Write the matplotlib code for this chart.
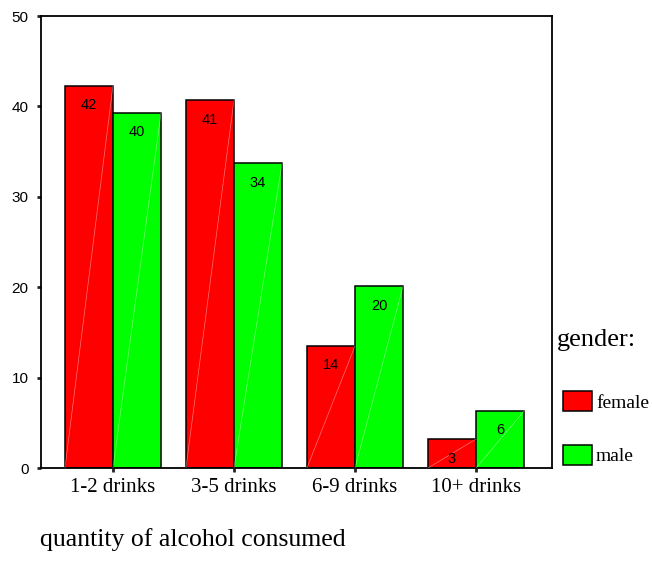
import matplotlib
matplotlib.use("Agg")
import matplotlib.pyplot as plt
import numpy as np

categories = ["1-2 drinks", "3-5 drinks", "6-9 drinks", "10+ drinks"]
female = [42.3, 40.7, 13.5, 3.2]
male = [39.3, 33.7, 20.1, 6.3]
female_labels = ["42", "41", "14", "3"]
male_labels = ["40", "34", "20", "6"]
yticks = [0, 10, 20, 30, 40, 50]

fig = plt.figure(figsize=(6.52, 5.61), dpi=100)
ax = fig.add_axes([41/652, 1-468/561, 511/652, 452/561])

x = np.arange(len(categories))
w = 0.397
red = "#ff0000"
green = "#00ff00"
b1 = ax.bar(x - w/2, female, w, color=red, edgecolor="black", linewidth=1.1, label="female")
b2 = ax.bar(x + w/2, male, w, color=green, edgecolor="black", linewidth=1.1, label="male")

# faint diagonal artifacts
for xs, vals in ((x - w/2, female), (x + w/2, male)):
    for xc, v in zip(xs, vals):
        ax.plot([xc - w/2, xc + w/2], [0, v], color="white", lw=0.5, alpha=0.45, zorder=3)

for xs, vals, labs in ((x - w/2, female, female_labels), (x + w/2, male, male_labels)):
    for xc, v, lab in zip(xs, vals, labs):
        ax.annotate(lab, (xc, v), xytext=(0, -14), textcoords="offset points",
                    ha="center", va="center", fontsize=10.5, family="Liberation Sans", zorder=4)

ax.set_xlim(-0.595, 3.628)
ax.set_ylim(0, 50)
ax.set_yticks(yticks)
ax.set_yticklabels([str(t) for t in yticks], family="Liberation Sans", fontsize=11)
ax.set_xticks(x)
ax.set_xticklabels(categories, family="Liberation Serif", fontsize=15)
ax.tick_params(axis="both", length=3, width=2, color="#222222")
ax.tick_params(axis="y", pad=6)
ax.tick_params(axis="x", pad=4)
for s in ax.spines.values():
    s.set_linewidth(1.3)

fig.text(40/652, 1-540/561, "quantity of alcohol consumed", family="Liberation Serif",
         fontsize=18.5, ha="left", va="center")
fig.text(557/652, 1-340/561, "gender:", family="Liberation Serif", fontsize=19,
         ha="left", va="center")

leg = ax.legend(handles=[b1, b2], labels=["female", "male"], loc="upper left",
                bbox_to_anchor=(563/652, 1-391/561), bbox_transform=fig.transFigure,
                frameon=False, borderpad=0, borderaxespad=0, handlelength=1.5,
                handleheight=1.2, handletextpad=0.2, labelspacing=1.7,
                prop={"family": "Liberation Serif", "size": 14})

fig.savefig("out.png", dpi=100)
